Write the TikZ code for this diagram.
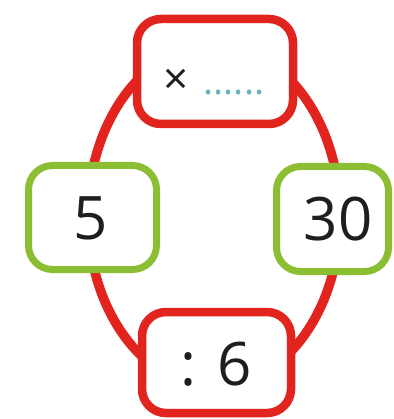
\documentclass[tikz,border=0pt]{standalone}
\usepackage{fontspec}
\setmainfont{Open Sans}
\definecolor{ringred}{RGB}{226,36,30}
\definecolor{boxgreen}{RGB}{140,190,52}
\definecolor{dotcyan}{RGB}{105,180,185}
\definecolor{txt}{RGB}{30,30,30}
\begin{document}
\begin{tikzpicture}[x=1pt,y=-1pt,
  redbox/.style={draw=ringred,line width=8.5pt,fill=white,rounded corners=24pt,inner sep=0pt},
  greenbox/.style={draw=boxgreen,line width=7pt,fill=white,rounded corners=24pt,inner sep=0pt},
  bigtxt/.style={text=txt,font=\fontsize{60}{60}\selectfont,inner sep=0pt}]
\useasboundingbox (0,0) rectangle (393,419);
\draw[ringred,line width=9.5pt] (214,216) ellipse [x radius=126,y radius=171];
\node[redbox,minimum width=156pt,minimum height=105pt] (top) at (215,71.5) {};
\node[greenbox,minimum width=128pt,minimum height=104pt] (left) at (92.5,217.5) {};
\node[greenbox,minimum width=112pt,minimum height=105pt] (right) at (332.5,219) {};
\node[redbox,minimum width=149pt,minimum height=101pt] (bottom) at (216.5,362.5) {};
\node[text=txt,font=\fontsize{44}{44}\selectfont,inner sep=0pt] (times) at (176,82) {×};
\node[text=dotcyan,font=\fontsize{38}{38}\selectfont,inner sep=0pt,anchor=base] (dots) at (234,94.5) {......};
\node[bigtxt] (five) at (91,218) {5};
\node[bigtxt] (thirty) at (338,219) {30};
\node[bigtxt] (div) at (216,364) {: 6};
\end{tikzpicture}
\end{document}
